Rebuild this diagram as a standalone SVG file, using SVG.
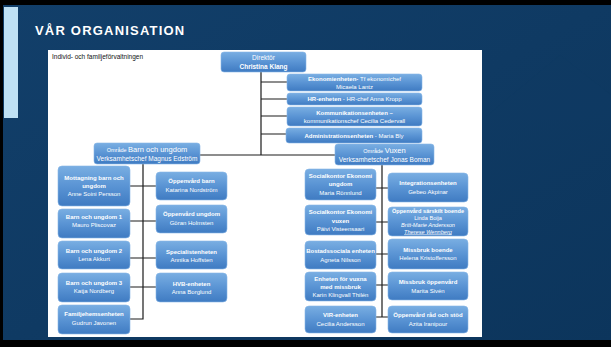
<svg xmlns="http://www.w3.org/2000/svg" width="611" height="347" viewBox="0 0 611 347">
<defs>
<linearGradient id="bg" x1="0" y1="0" x2="0" y2="1">
<stop offset="0" stop-color="#79aee2"/>
<stop offset="0.5" stop-color="#5a94d4"/>
<stop offset="1" stop-color="#3f7bc2"/>
</linearGradient>
<linearGradient id="back" x1="0" y1="0" x2="1" y2="1">
<stop offset="0" stop-color="#123f6a"/>
<stop offset="1" stop-color="#0c355c"/>
</linearGradient>
<style>
.box{fill:url(#bg);stroke:#86b6e6;stroke-width:0.6}
.t{font-family:"Liberation Sans",Arial,sans-serif;font-size:6px;fill:#ffffff;text-anchor:middle}
.b{font-weight:bold}
.i{font-style:italic}
.c{stroke:#1c1c1c;stroke-width:1.2;fill:none}
</style>
</defs>
<rect x="0" y="0" width="611" height="347" fill="url(#back)"/>
<path d="M482 120 L560 55 L611 95 L611 120 Z" fill="#0f3a62" opacity="0.6"/>
<rect x="0" y="0" width="611" height="5" fill="#000"/>
<rect x="0" y="0" width="3" height="347" fill="#000"/>
<rect x="0" y="340" width="611" height="7" fill="#000"/>
<rect x="4" y="7" width="14" height="111" fill="#bfe1f4"/>
<text x="35" y="35" font-family="'Liberation Sans',Arial,sans-serif" font-size="13" font-weight="bold" letter-spacing="1.2" fill="#ffffff">VÅR ORGANISATION</text>
<rect x="48" y="50" width="434" height="287" fill="#ffffff"/>
<text x="52" y="59" font-family="'Liberation Sans',Arial,sans-serif" font-size="6.5" fill="#111">Individ- och familjeförvaltningen</text>

<g id="connectors">
<path class="c" d="M261 72 V155 M261 82 H287 M261 99 H287 M261 116 H287 M261 134 H286 M199 155 H335"/>
<path class="c" d="M143 164 V319 H130 M130 186 H156 M130 221 H156 M130 258 H156 M130 287 H156"/>
<path class="c" d="M382 165 V317 M376 188 H388 M376 222 H388 M376 254 H388 M376 285 H388 M376 317 H388"/>
</g>

<g id="direktor"><rect class="box" x="221" y="52" width="85" height="20" rx="3"/>
<text class="t" x="263.5" y="60" style="font-size:6.5px">Direktör</text>
<text class="t b" x="263.5" y="68.5" style="font-size:6.5px">Christina Klang</text></g>

<g id="ekonomi"><rect class="box" x="287" y="74" width="135" height="17" rx="3"/>
<text class="t" x="354.5" y="81"><tspan class="b">Ekonomienheten- </tspan>Tf ekonomichef</text>
<text class="t" x="354.5" y="88.5">Micaela Lantz</text></g>

<g id="hr"><rect class="box" x="287" y="93" width="135" height="12" rx="3"/>
<text class="t" x="354.5" y="101"><tspan class="b">HR-enheten</tspan> - HR-chef Anna Kropp</text></g>

<g id="kommunikation"><rect class="box" x="287" y="107" width="135" height="19" rx="3"/>
<text class="t b" x="354.5" y="114.5">Kommunikationsenheten –</text>
<text class="t" x="354.5" y="122.5">kommunikationschef Cecilia Cedervall</text></g>

<g id="administration"><rect class="box" x="286" y="128" width="136" height="15" rx="3"/>
<text class="t" x="354" y="137.5"><tspan class="b">Administrationsenheten</tspan> - Maria Bly</text></g>

<g id="barn-ungdom"><rect class="box" x="94" y="143" width="106" height="21" rx="3"/>
<text class="t" x="147" y="152"><tspan style="font-size:5.5px">Område </tspan><tspan style="font-size:7.5px">Barn och ungdom</tspan></text>
<text class="t" x="147" y="160.5" style="font-size:6.5px">Verksamhetschef Magnus Edström</text></g>

<g id="vuxen"><rect class="box" x="335" y="144" width="99" height="21" rx="3"/>
<text class="t" x="384.5" y="153"><tspan style="font-size:5.5px">Område </tspan><tspan style="font-size:7.5px">Vuxen</tspan></text>
<text class="t" x="384.5" y="161.5" style="font-size:6.5px">Verksamhetschef Jonas Boman</text></g>

<g id="mottagning"><rect class="box" x="58" y="166" width="72" height="40" rx="4"/>
<text class="t b" x="94" y="180">Mottagning barn och</text>
<text class="t b" x="94" y="188">ungdom</text>
<text class="t" x="94" y="196">Anne Soini Persson</text></g>

<g id="bou1"><rect class="box" x="58" y="209" width="72" height="29" rx="4"/>
<text class="t b" x="94" y="219">Barn och ungdom 1</text>
<text class="t" x="94" y="227">Mauro Pliscovaz</text></g>

<g id="bou2"><rect class="box" x="58" y="241" width="72" height="28" rx="4"/>
<text class="t b" x="94" y="253">Barn och ungdom 2</text>
<text class="t" x="94" y="261">Lena Akkurt</text></g>

<g id="bou3"><rect class="box" x="58" y="273" width="72" height="29" rx="4"/>
<text class="t b" x="94" y="285">Barn och ungdom 3</text>
<text class="t" x="94" y="293">Katja Nordberg</text></g>

<g id="familjehem"><rect class="box" x="58" y="305" width="72" height="29" rx="4"/>
<text class="t b" x="94" y="316">Familjehemsenheten</text>
<text class="t" x="94" y="324.5">Gudrun Javonen</text></g>

<g id="oppenvard-barn"><rect class="box" x="156" y="172" width="71" height="28" rx="4"/>
<text class="t b" x="191.5" y="183">Öppenvård barn</text>
<text class="t" x="191.5" y="191.5">Katarina Nordström</text></g>

<g id="oppenvard-ungdom"><rect class="box" x="156" y="205" width="71" height="28" rx="4"/>
<text class="t b" x="191.5" y="216">Öppenvård ungdom</text>
<text class="t" x="191.5" y="224.5">Göran Holmsten</text></g>

<g id="specialist"><rect class="box" x="156" y="241" width="71" height="28" rx="4"/>
<text class="t b" x="191.5" y="253.5">Specialistenheten</text>
<text class="t" x="191.5" y="262">Annika Hoffsten</text></g>

<g id="hvb"><rect class="box" x="156" y="273" width="71" height="29" rx="4"/>
<text class="t b" x="191.5" y="285.5">HVB-enheten</text>
<text class="t" x="191.5" y="294">Anna Borglund</text></g>

<g id="soc-ungdom"><rect class="box" x="305" y="169" width="71" height="31" rx="4"/>
<text class="t b" x="340.5" y="177.5">Socialkontor Ekonomi</text>
<text class="t b" x="340.5" y="186">ungdom</text>
<text class="t" x="340.5" y="194.5">Maria Rönnlund</text></g>

<g id="soc-vuxen"><rect class="box" x="305" y="205" width="71" height="30" rx="4"/>
<text class="t b" x="340.5" y="214">Socialkontor Ekonomi</text>
<text class="t b" x="340.5" y="222.5">vuxen</text>
<text class="t" x="340.5" y="231">Päivi Visteensaari</text></g>

<g id="bostad"><rect class="box" x="305" y="241" width="71" height="28" rx="4"/>
<text class="t b" x="340.5" y="253">Bostadssociala enheten</text>
<text class="t" x="340.5" y="261.5">Agneta Nilsson</text></g>

<g id="vuxna-missbruk"><rect class="box" x="305" y="272" width="71" height="29" rx="4"/>
<text class="t b" x="340.5" y="280.5">Enheten för vuxna</text>
<text class="t b" x="340.5" y="288.5">med missbruk</text>
<text class="t" x="340.5" y="296.5">Karin Klingvall Thilén</text></g>

<g id="vir"><rect class="box" x="305" y="306" width="71" height="27" rx="4"/>
<text class="t b" x="340.5" y="317">VIR-enheten</text>
<text class="t" x="340.5" y="325.5">Cecilia Andersson</text></g>

<g id="integration"><rect class="box" x="388" y="173" width="80" height="29" rx="4"/>
<text class="t b" x="428" y="185">Integrationsenheten</text>
<text class="t" x="428" y="193.5">Gebeo Akpinar</text></g>

<g id="oppenvard-sarskilt"><rect class="box" x="388" y="207" width="80" height="29" rx="4"/>
<text class="t b" x="428" y="212.5" style="font-size:5.6px">Öppenvård  särskilt boende</text>
<text class="t" x="428" y="219.5" style="font-size:5.6px">Linda Boija</text>
<text class="t i" x="428" y="226.5" style="font-size:5.6px">Britt-Marie Andersson</text>
<text class="t i" x="428" y="233.5" style="font-size:5.6px;text-decoration:underline">Therese Wennberg</text></g>

<g id="missbruk-boende"><rect class="box" x="388" y="239" width="80" height="30" rx="4"/>
<text class="t b" x="428" y="251.5">Missbruk boende</text>
<text class="t" x="428" y="260">Helena Kristoffersson</text></g>

<g id="missbruk-oppenvard"><rect class="box" x="388" y="272" width="80" height="28" rx="4"/>
<text class="t b" x="428" y="284">Missbruk öppenvård</text>
<text class="t" x="428" y="292.5">Marita Sivén</text></g>

<g id="rad-stod"><rect class="box" x="388" y="306" width="80" height="27" rx="4"/>
<text class="t b" x="428" y="317">Öppenvård råd och stöd</text>
<text class="t" x="428" y="325.5">Azita Iranipour</text></g>
</svg>
